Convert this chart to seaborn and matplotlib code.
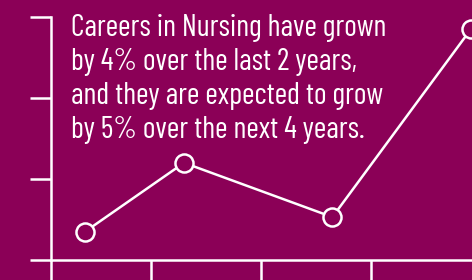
import matplotlib
matplotlib.use("Agg")
import matplotlib.pyplot as plt
import seaborn as sns

# ---- Data ---------------------------------------------------------------
periods = [0.40, 1.30, 2.65, 3.91]
growth = [0.35, 1.20, 0.53, 2.85]
x_ticks = [0.09, 1, 2, 3]
y_ticks = [0, 1, 2, 3]
caption = ("Careers in Nursing have grown\n"
           "by 4% over the last 2 years,\n"
           "and they are expected to grow\n"
           "by 5% over the next 4 years.")

BG = "#8B0057"
FG = "white"

sns.set_style("white")
plt.rcParams["font.family"] = ["Barlow Condensed", "DejaVu Sans"]

fig = plt.figure(figsize=(4.72, 2.8), dpi=100, facecolor=BG)
ax = fig.add_axes([51 / 472, 20 / 280, 421 / 472, 260 / 280])
ax.set_facecolor(BG)

sns.lineplot(x=periods, y=growth, ax=ax, color=FG, linewidth=1.8,
             marker="o", markersize=13, markerfacecolor=BG,
             markeredgecolor=FG, markeredgewidth=1.8, clip_on=False)

ax.set_xlim(0.09, 3.92)
ax.set_ylim(0, 3.21)
ax.set_xticks(x_ticks)
ax.set_yticks(y_ticks)
ax.set_xticklabels([])
ax.set_yticklabels([])
ax.tick_params(axis="x", direction="out", length=14.5, width=1.8, color=FG, bottom=True)
ax.tick_params(axis="y", direction="out", length=15, width=1.8, color=FG, left=True)

for side in ("top", "right"):
    ax.spines[side].set_visible(False)
for side in ("left", "bottom"):
    ax.spines[side].set_color(FG)
    ax.spines[side].set_linewidth(1.8)
ax.spines["left"].set_bounds(0, 3)

fig.text(71 / 472, 1 - 14 / 280, caption, color=FG, fontsize=21.8,
         ha="left", va="top", linespacing=1.28)

fig.savefig("out.png", dpi=100, facecolor=BG)
